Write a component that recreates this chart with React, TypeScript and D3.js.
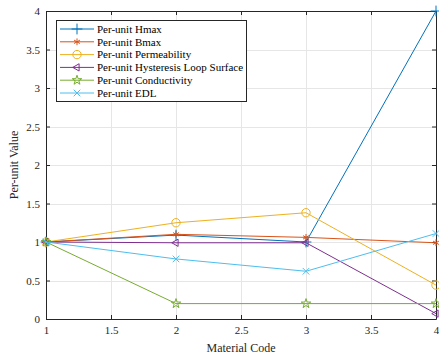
import React, { useEffect, useRef } from 'react';
import * as d3 from 'd3';

const codes = [1, 2, 3, 4];
const hmax = [1, 1.09, 1.0, 4.0];
const bmax = [1, 1.1, 1.06, 0.99];
const permeability = [1, 1.25, 1.38, 0.44];
const hysteresis = [1, 0.99, 0.99, 0.07];
const conductivity = [1, 0.2, 0.2, 0.2];
const edl = [1, 0.78, 0.62, 1.11];

const xTicks = [1, 1.5, 2, 2.5, 3, 3.5, 4];
const yTicks = [0, 0.5, 1, 1.5, 2, 2.5, 3, 3.5, 4];

const series = [
  { name: 'Per-unit Hmax', values: hmax, color: '#0072BD', marker: 'plus' },
  { name: 'Per-unit Bmax', values: bmax, color: '#D95319', marker: 'asterisk' },
  { name: 'Per-unit Permeability', values: permeability, color: '#EDB120', marker: 'circle' },
  { name: 'Per-unit Hysteresis Loop Surface', values: hysteresis, color: '#7E2F8E', marker: 'triangle' },
  { name: 'Per-unit Conductivity', values: conductivity, color: '#77AC30', marker: 'star' },
  { name: 'Per-unit EDL', values: edl, color: '#4DBEEE', marker: 'times' },
];

const markerPath = (m: string) => {
  switch (m) {
    case 'plus': return { d: d3.symbol(d3.symbolPlus, 40)(), rot: 0 };
    case 'asterisk': return { d: d3.symbol(d3.symbolAsterisk, 32)(), rot: 0 };
    case 'circle': return { d: d3.symbol(d3.symbolCircle, 55)(), rot: 0 };
    case 'triangle': return { d: d3.symbol(d3.symbolTriangle2, 38)(), rot: -90 };
    case 'star': return { d: d3.symbol(d3.symbolStar, 28)(), rot: 0 };
    default: return { d: d3.symbol(d3.symbolTimes, 30)(), rot: 0 };
  }
};

const App = () => {
  const svgRef = useRef<SVGSVGElement>(null);

  useEffect(() => {
    const svg = d3.select(svgRef.current);
    svg.selectAll('*').remove();

    const margin = { top: 11, right: 2, bottom: 40, left: 46 };
    const width = 439, height = 359;
    const x = d3.scaleLinear().domain([1, 4]).range([margin.left, width - margin.right - 1]);
    const y = d3.scaleLinear().domain([0, 4]).range([height - margin.bottom, margin.top]);
    const font = '"Liberation Serif", "Times New Roman", serif';

    svg.append('rect')
      .attr('x', margin.left).attr('y', margin.top)
      .attr('width', x(4) - x(1)).attr('height', y(0) - y(4))
      .attr('fill', '#fff');

    // grid
    const grid = svg.append('g').attr('stroke', '#e6e6e6').attr('stroke-width', 1);
    grid.selectAll('.gx').data(xTicks.slice(1, -1)).join('line')
      .attr('x1', d => Math.round(x(d)) + 0.5).attr('x2', d => Math.round(x(d)) + 0.5)
      .attr('y1', y(0)).attr('y2', y(4));
    grid.selectAll('.gy').data(yTicks.slice(1, -1)).join('line')
      .attr('y1', d => Math.round(y(d)) + 0.5).attr('y2', d => Math.round(y(d)) + 0.5)
      .attr('x1', x(1)).attr('x2', x(4));

    // axes
    const xAxis = svg.append('g').attr('transform', `translate(0,${y(0)})`)
      .call(d3.axisBottom(x).tickValues(xTicks).tickFormat(d3.format('')).tickSizeInner(-4).tickSizeOuter(0).tickPadding(7));
    const yAxis = svg.append('g').attr('transform', `translate(${x(1)},0)`)
      .call(d3.axisLeft(y).tickValues(yTicks).tickFormat(d3.format('')).tickSizeInner(-4).tickSizeOuter(0).tickPadding(6));
    const xTop = svg.append('g').attr('transform', `translate(0,${y(4)})`)
      .call(d3.axisTop(x).tickValues(xTicks).tickFormat(() => '').tickSizeInner(-4).tickSizeOuter(0));
    const yRight = svg.append('g').attr('transform', `translate(${x(4)},0)`)
      .call(d3.axisRight(y).tickValues(yTicks).tickFormat(() => '').tickSizeInner(-4).tickSizeOuter(0));
    [xAxis, yAxis, xTop, yRight].forEach(g => {
      g.selectAll('path, line').attr('stroke', '#262626');
      g.selectAll('text').attr('fill', '#262626').style('font-family', font).style('font-size', '11px');
    });

    // lines
    const line = d3.line<number>().x((_, i) => x(codes[i])).y(d => y(d));
    const plot = svg.append('g');
    series.forEach(s => {
      plot.append('path').datum(s.values)
        .attr('d', line).attr('fill', 'none').attr('stroke', s.color).attr('stroke-width', 1);
      const mk = markerPath(s.marker);
      plot.selectAll(null).data(s.values).join('path')
        .attr('d', mk.d)
        .attr('transform', (d, i) => `translate(${x(codes[i])},${y(d)}) rotate(${mk.rot})`)
        .attr('fill', 'none').attr('stroke', s.color).attr('stroke-width', 1);
    });

    // legend
    const lg = svg.append('g').attr('transform', 'translate(56,20)');
    lg.append('rect').attr('x', 0.5).attr('y', 0.5).attr('width', 190).attr('height', 81)
      .attr('fill', '#fff').attr('stroke', '#262626').attr('stroke-width', 1);
    series.forEach((s, i) => {
      const yy = 9 + i * 12.8;
      lg.append('line').attr('x1', 4).attr('x2', 38).attr('y1', yy).attr('y2', yy)
        .attr('stroke', s.color).attr('stroke-width', 1);
      const mk = markerPath(s.marker);
      lg.append('path').attr('d', mk.d).attr('transform', `translate(21,${yy}) rotate(${mk.rot})`)
        .attr('fill', 'none').attr('stroke', s.color).attr('stroke-width', 1);
      lg.append('text').attr('x', 41).attr('y', yy).attr('dy', '0.35em')
        .style('font-family', font).style('font-size', '11px').attr('fill', '#000')
        .text(s.name);
    });

    // labels
    svg.append('text').attr('x', (x(1) + x(4)) / 2).attr('y', 352).attr('text-anchor', 'middle')
      .style('font-family', font).style('font-size', '12px').attr('fill', '#262626').text('Material Code');
    svg.append('text').attr('transform', `translate(18,${(y(0) + y(4)) / 2}) rotate(-90)`)
      .attr('text-anchor', 'middle')
      .style('font-family', font).style('font-size', '12px').attr('fill', '#262626').text('Per-unit Value');
  }, []);

  return (
    <svg ref={svgRef} width={439} height={359}
      style={{ position: 'absolute', left: 0, top: 0, background: '#fff' }} />
  );
};

export default App;
